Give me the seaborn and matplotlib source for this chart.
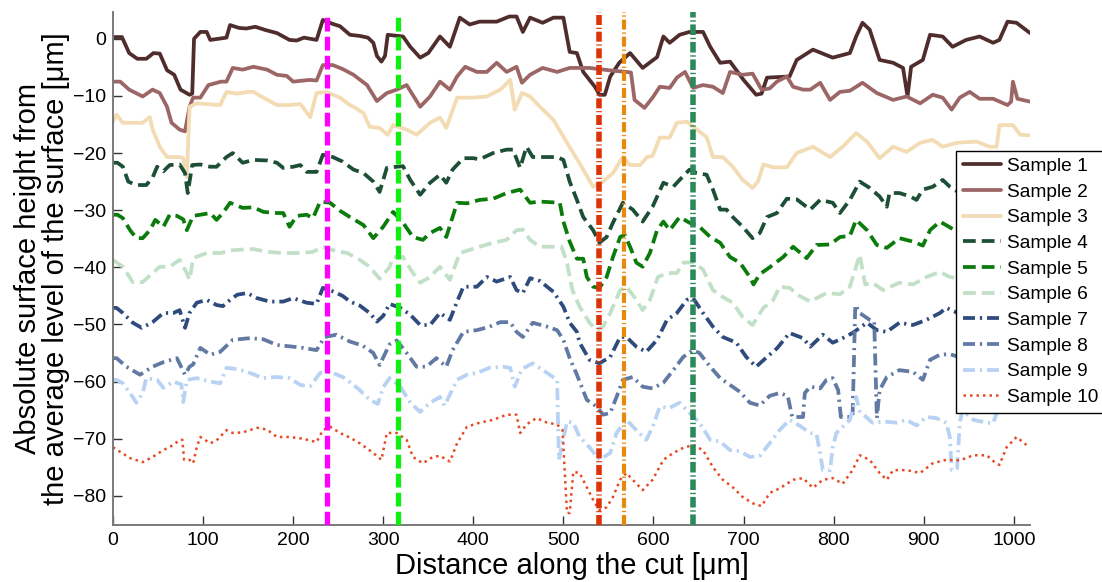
import numpy as np
import pandas as pd
import matplotlib
matplotlib.use('Agg')
import matplotlib.pyplot as plt
import seaborn as sns

# ---- profile data (x in um, height in um) ----
s1_x = [0, 10, 18, 27, 37, 45, 52, 60, 68, 75, 85, 88, 90, 97, 104, 108, 126, 130, 140, 148, 158, 170, 182, 196, 204, 212, 226, 233, 244, 252, 263, 274, 283, 289, 293, 298, 302, 305, 322, 330, 341, 350, 363, 374, 385, 396, 407, 426, 440, 448, 455, 463, 477, 489, 500, 507, 515, 522, 535, 540, 546, 552, 562, 574, 588, 604, 611, 618, 629, 640, 655, 663, 674, 685, 700, 714, 720, 726, 751, 759, 777, 799, 818, 825, 832, 840, 851, 866, 877, 882, 886, 899, 907, 921, 932, 947, 962, 977, 984, 993, 1003, 1018]
s1_y = [0.3, 0.3, -2.5, -3.5, -3.5, -2.5, -2.6, -5.5, -6.3, -8.9, -9.8, -9.6, 0, 1.2, 1.2, -0.2, 0.2, 2.4, 1.9, 1.8, 2.1, 1.5, 1.0, -0.2, -0.3, 0.2, -0.2, 3.3, 2.6, 2.2, 0.7, 0.5, 0.2, -0.7, -3, -4, -3, 0.7, 0.4, -1.4, -3.3, -2.5, 0.4, -1.4, 3.7, 2.5, 3.0, 3.0, 3.9, 3.9, 1.2, 3.7, 2.8, 3.7, 3.7, -2.3, -2.5, -5.8, -8.4, -9.8, -9.8, -6.6, -4.2, -2.5, -5.1, -3.2, 0.4, -0.7, 0.7, 1.2, 1.2, -1.4, -4.2, -4.0, -7.2, -9.8, -9.6, -6.8, -6.6, -3.7, -1.9, -3.3, -2.5, 0.4, 2.8, 1.6, -3.7, -4.2, -5.1, -10.1, -4.9, -3.7, 0.7, 0.4, -1.4, -0.2, 0.4, -0.7, -0.2, 3.0, 2.8, 1.0]

s2_x = [0, 8, 18, 33, 44, 52, 60, 65, 74, 80, 85, 89, 97, 106, 120, 126, 133, 144, 156, 171, 182, 193, 200, 218, 226, 233, 244, 255, 267, 282, 293, 304, 315, 326, 341, 352, 363, 374, 382, 391, 404, 415, 426, 437, 448, 454, 463, 477, 493, 507, 529, 550, 570, 575, 579, 590, 599, 607, 618, 626, 635, 644, 655, 666, 677, 685, 699, 710, 720, 729, 737, 748, 755, 766, 774, 785, 796, 807, 818, 832, 848, 866, 881, 896, 910, 921, 931, 940, 951, 962, 977, 993, 997, 999, 1004, 1018]
s2_y = [-7.5, -7.5, -8.9, -10.1, -8.9, -9.5, -11.9, -14.7, -15.9, -16.2, -11.9, -10.3, -10.3, -8.1, -7.5, -7.5, -5.1, -5.4, -4.9, -5.4, -6.3, -6.5, -7.5, -7.2, -7.3, -4.6, -4.6, -5.3, -6.3, -8.1, -10.9, -9.5, -8.9, -8.1, -11.9, -10.1, -7.5, -8.9, -6.6, -4.9, -5.8, -5.8, -4.2, -5.8, -4.9, -7.7, -6.3, -5.1, -5.8, -5.1, -5.1, -5.5, -5.8, -5.9, -10.7, -12.1, -10.3, -8.4, -8.6, -6.8, -5.8, -8.6, -8.1, -8.4, -9.5, -5.8, -6.3, -6.1, -8.9, -8.7, -7.5, -6.6, -8.4, -8.9, -8.9, -7.7, -10.7, -9.3, -9.1, -7.7, -9.5, -10.7, -10.1, -11.3, -9.8, -10.3, -12.4, -10.3, -9.3, -10.5, -10.5, -11.6, -11.0, -7.5, -10.5, -11.0]

s3_x = [0, 4, 11, 33, 41, 44, 52, 60, 74, 78, 82, 85, 93, 119, 126, 138, 150, 156, 167, 182, 196, 208, 219, 226, 237, 252, 263, 267, 278, 285, 296, 305, 311, 326, 337, 352, 363, 370, 382, 400, 415, 430, 441, 446, 454, 463, 474, 489, 504, 518, 533, 544, 555, 566, 574, 585, 593, 599, 607, 618, 626, 637, 648, 659, 666, 677, 688, 699, 710, 716, 722, 733, 748, 759, 777, 796, 810, 825, 837, 851, 866, 881, 896, 910, 921, 937, 959, 973, 981, 984, 999, 1007, 1018]
s3_y = [-14.5, -13.3, -14.7, -14.7, -13.7, -15.9, -18.9, -20.7, -20.7, -20.9, -24.2, -11.9, -11.3, -11.6, -9.3, -9.6, -9.3, -9.3, -10.3, -11.6, -11.6, -11.4, -13.7, -9.5, -9.3, -10.3, -11.6, -11.9, -13.0, -15.4, -15.6, -16.8, -15.1, -15.9, -16.8, -14.7, -13.8, -15.6, -10.3, -10.3, -10.1, -8.9, -7.2, -12.4, -9.5, -10.1, -11.9, -14.2, -18.2, -21.8, -25.9, -25.0, -23.5, -20.7, -22.1, -22.1, -20.7, -20.5, -17.3, -17.3, -14.7, -14.5, -15.9, -17.2, -20.7, -20.7, -22.4, -24.7, -26.1, -25.0, -22.0, -22.5, -22.5, -20.0, -18.9, -20.7, -18.9, -16.5, -18.0, -20.9, -18.9, -19.8, -18.2, -17.7, -18.9, -18.2, -18.0, -18.9, -18.9, -15.1, -15.1, -16.8, -16.9]

s4_x = [0, 5, 11, 17, 26, 37, 44, 49, 56, 63, 74, 80, 83, 88, 97, 108, 115, 126, 133, 144, 156, 171, 182, 189, 200, 208, 215, 226, 233, 244, 255, 267, 278, 289, 296, 304, 315, 322, 330, 341, 352, 363, 370, 377, 389, 400, 407, 422, 437, 444, 452, 459, 466, 477, 493, 500, 507, 515, 522, 533, 540, 548, 555, 566, 577, 588, 599, 611, 622, 629, 640, 648, 659, 666, 674, 681, 688, 699, 710, 718, 726, 737, 748, 759, 774, 785, 799, 807, 818, 829, 840, 851, 859, 862, 873, 885, 892, 899, 910, 921, 929, 940, 960, 980, 1000, 1018]
s4_y = [-21.7, -21.7, -22.4, -25.0, -25.6, -25.6, -24.3, -22.4, -23.2, -22.1, -22.0, -23.5, -27.0, -22.1, -22.0, -22.4, -22.4, -20.7, -20.0, -21.7, -21.2, -21.3, -21.7, -22.6, -22.4, -22.1, -23.3, -23.3, -20.3, -20.7, -21.5, -22.9, -23.5, -25.0, -26.8, -22.6, -22.4, -22.3, -24.7, -27.3, -25.2, -23.8, -25.2, -22.9, -20.9, -20.9, -21.1, -20.0, -19.4, -19.4, -22.6, -18.9, -20.7, -20.7, -20.7, -21.2, -25.0, -28.2, -31.2, -33.5, -35.7, -34.7, -32.2, -28.7, -29.9, -32.0, -29.4, -25.2, -25.9, -24.7, -22.9, -23.5, -23.8, -26.4, -29.9, -29.9, -31.2, -32.9, -34.9, -34.0, -31.2, -30.5, -28.0, -28.1, -29.9, -28.2, -28.7, -30.5, -28.2, -25.0, -26.1, -27.6, -29.4, -27.0, -27.0, -27.6, -28.2, -26.4, -25.9, -24.7, -25.9, -27.0, -26.0, -27.5, -25.5, -25.0]

s5_x = [0, 5, 11, 19, 26, 33, 41, 47, 56, 63, 71, 78, 82, 89, 97, 108, 115, 122, 130, 144, 156, 167, 182, 189, 196, 204, 215, 222, 230, 241, 252, 263, 278, 289, 300, 311, 322, 333, 344, 352, 363, 370, 382, 393, 407, 422, 437, 452, 463, 474, 496, 500, 507, 515, 522, 526, 533, 540, 548, 555, 563, 568, 574, 581, 588, 596, 604, 611, 618, 629, 640, 651, 663, 674, 685, 696, 707, 711, 718, 729, 744, 755, 770, 781, 796, 807, 818, 825, 837, 848, 859, 873, 888, 899, 907, 918, 929, 945, 965, 985, 1000, 1018]
s5_y = [-30.8, -30.8, -31.4, -33.5, -34.9, -34.9, -33.5, -31.7, -32.9, -30.8, -31.0, -31.6, -33.5, -31.0, -30.8, -30.5, -31.7, -30.5, -28.7, -29.6, -29.5, -30.3, -30.5, -30.5, -32.9, -31.0, -30.8, -31.4, -28.5, -28.7, -30.1, -31.2, -32.6, -34.9, -32.9, -30.3, -32.2, -34.7, -35.2, -34.0, -33.1, -34.7, -28.7, -28.8, -28.2, -28.0, -27.0, -26.4, -28.7, -28.5, -28.7, -32.0, -35.5, -38.5, -38.5, -41.7, -43.4, -43.6, -41.7, -38.2, -34.7, -34.3, -36.4, -39.2, -39.9, -37.5, -33.5, -32.0, -33.5, -31.2, -32.2, -32.9, -34.7, -35.7, -38.2, -39.2, -41.7, -43.0, -41.2, -40.0, -38.2, -36.4, -38.4, -36.1, -36.0, -34.7, -34.5, -31.7, -33.5, -36.1, -36.6, -34.9, -35.5, -36.2, -33.5, -32.0, -33.0, -34.5, -33.5, -35.0, -34.0, -33.5]

s6_x = [0, 11, 22, 33, 44, 52, 63, 74, 82, 85, 89, 104, 119, 133, 156, 171, 189, 208, 222, 233, 244, 260, 274, 285, 296, 307, 311, 322, 333, 341, 352, 363, 374, 385, 407, 422, 437, 448, 455, 463, 474, 498, 504, 510, 518, 529, 537, 544, 552, 563, 570, 581, 588, 596, 605, 615, 626, 633, 644, 655, 666, 677, 688, 699, 710, 722, 733, 740, 751, 762, 774, 792, 807, 818, 829, 835, 843, 855, 873, 888, 903, 918, 929, 945, 965, 985, 1000, 1018]
s6_y = [-38.7, -39.9, -42.6, -42.6, -41.0, -39.9, -39.9, -38.7, -41.0, -42.2, -38.4, -37.5, -37.5, -37.0, -36.8, -37.3, -37.5, -37.5, -37.3, -36.4, -37.0, -37.5, -38.7, -39.9, -42.0, -40.0, -38.2, -38.2, -41.0, -42.7, -41.7, -39.9, -42.2, -37.5, -36.4, -35.7, -35.2, -33.5, -33.4, -35.2, -36.4, -36.4, -39.2, -44.0, -46.9, -49.7, -51.0, -50.4, -48.0, -44.0, -43.4, -45.7, -47.5, -45.7, -41.7, -41.0, -41.0, -39.2, -39.1, -40.4, -44.0, -45.2, -46.2, -48.7, -50.1, -47.1, -45.7, -43.4, -43.6, -45.0, -46.0, -44.5, -44.7, -43.4, -37.8, -43.0, -42.7, -44.0, -42.7, -43.0, -41.7, -40.8, -41.7, -42.0, -41.0, -43.0, -42.0, -43.0]

s7_x = [0, 4, 11, 22, 32, 44, 56, 67, 74, 80, 85, 93, 104, 115, 122, 130, 138, 149, 160, 174, 189, 200, 215, 226, 233, 244, 255, 263, 274, 285, 293, 300, 307, 319, 330, 341, 352, 363, 374, 382, 389, 404, 415, 426, 441, 448, 455, 463, 474, 489, 500, 507, 515, 518, 529, 540, 552, 563, 570, 581, 592, 604, 615, 626, 637, 644, 655, 666, 677, 692, 703, 714, 726, 737, 751, 766, 774, 788, 799, 810, 821, 837, 848, 859, 873, 888, 903, 918, 925, 945, 965, 985, 1000, 1018]
s7_y = [-47.1, -47.1, -48.0, -49.7, -50.6, -49.6, -48.0, -48.0, -47.5, -50.6, -48.0, -46.2, -45.7, -46.6, -46.8, -45.7, -44.8, -44.5, -45.4, -46.0, -46.0, -45.4, -46.2, -46.4, -43.6, -44.2, -45.0, -46.0, -46.7, -48.0, -49.5, -48.5, -46.4, -47.1, -48.3, -50.1, -50.1, -48.0, -49.2, -46.0, -43.4, -43.4, -41.7, -42.5, -41.7, -44.0, -44.5, -41.9, -42.4, -44.3, -46.9, -49.7, -51.3, -53.2, -56.2, -56.8, -55.7, -52.2, -52.2, -53.9, -54.8, -52.7, -49.2, -48.0, -45.7, -45.4, -48.0, -50.4, -52.2, -53.2, -55.7, -57.4, -55.7, -54.2, -51.5, -52.4, -53.9, -51.8, -53.2, -52.4, -51.5, -49.7, -51.0, -51.3, -49.7, -50.1, -49.2, -48.0, -47.1, -48.5, -47.5, -49.0, -48.0, -48.5]

s8_x = [0, 4, 15, 30, 44, 56, 71, 80, 85, 89, 97, 108, 119, 133, 152, 167, 182, 200, 211, 226, 235, 248, 263, 277, 289, 296, 307, 315, 326, 337, 348, 359, 370, 377, 389, 404, 418, 430, 441, 448, 455, 466, 482, 493, 500, 507, 515, 526, 537, 544, 552, 559, 566, 577, 588, 599, 611, 622, 633, 644, 651, 663, 674, 685, 696, 707, 718, 729, 740, 749, 754, 766, 768, 774, 785, 792, 799, 805, 808, 821, 824, 829, 840, 845, 848, 851, 859, 873, 888, 899, 907, 918, 929, 945, 965, 985, 1000, 1018]
s8_y = [-55.9, -55.9, -57.4, -58.8, -57.4, -56.6, -55.9, -58.8, -57.4, -57.0, -54.1, -55.3, -54.8, -52.7, -52.4, -52.6, -53.6, -53.9, -54.1, -54.5, -52.2, -51.8, -53.0, -53.7, -55.0, -57.1, -53.5, -52.8, -55.0, -57.4, -57.4, -55.9, -57.4, -54.5, -51.3, -51.0, -50.4, -49.6, -49.6, -51.3, -52.2, -49.7, -50.4, -51.0, -52.7, -55.9, -58.8, -63.2, -64.4, -65.8, -65.5, -62.7, -59.7, -59.2, -60.9, -61.2, -60.2, -58.0, -55.7, -54.5, -55.0, -57.4, -59.4, -60.6, -61.8, -63.7, -64.2, -62.5, -62.0, -62.5, -66.2, -66.2, -62.0, -60.9, -61.2, -59.7, -59.4, -61.5, -66.2, -66.2, -46.6, -48.0, -49.2, -49.5, -66.4, -61.5, -59.2, -58.0, -58.3, -59.7, -56.2, -55.3, -55.2, -56.0, -55.0, -56.5, -55.5, -55.5]

s9_x = [0, 4, 11, 19, 26, 33, 37, 49, 56, 67, 76, 78, 82, 93, 108, 119, 126, 138, 152, 167, 182, 196, 208, 219, 230, 241, 255, 263, 274, 285, 294, 300, 307, 319, 330, 341, 352, 363, 368, 374, 382, 393, 404, 418, 433, 441, 446, 454, 466, 482, 493, 495, 500, 504, 511, 518, 529, 540, 552, 559, 570, 581, 592, 599, 607, 618, 629, 640, 651, 663, 674, 685, 696, 707, 718, 729, 740, 751, 762, 774, 781, 785, 788, 796, 799, 803, 818, 825, 829, 843, 855, 870, 881, 892, 903, 914, 925, 929, 931, 937, 940, 943, 955, 970, 977, 981, 990, 1005, 1018]
s9_y = [-59.7, -59.7, -60.3, -62.0, -63.7, -62.0, -59.4, -59.7, -61.1, -60.0, -60.5, -63.6, -59.7, -59.4, -60.0, -60.3, -57.6, -57.8, -58.5, -59.4, -59.2, -59.4, -60.6, -60.8, -58.5, -58.3, -59.2, -60.1, -61.5, -63.2, -63.9, -61.0, -59.4, -60.9, -63.7, -65.3, -63.7, -62.7, -64.2, -62.3, -59.7, -58.8, -58.5, -57.6, -57.4, -57.6, -60.9, -57.8, -56.8, -58.5, -59.7, -73.7, -70.0, -67.0, -67.2, -69.7, -71.5, -73.7, -72.5, -69.0, -66.7, -68.5, -70.2, -68.0, -64.4, -64.6, -63.7, -65.5, -67.2, -70.2, -70.5, -72.0, -72.2, -73.2, -73.0, -70.8, -68.5, -66.7, -67.7, -69.0, -69.2, -72.5, -75.5, -75.5, -71.5, -69.0, -66.7, -62.7, -65.2, -67.2, -67.0, -67.2, -66.7, -67.7, -66.2, -66.4, -67.2, -69.7, -75.5, -75.2, -67.2, -65.0, -66.7, -67.2, -67.3, -65.5, -65.0, -64.0, -64.0]

s10_x = [0, 8, 19, 33, 44, 56, 67, 74, 77, 79, 85, 89, 93, 97, 108, 115, 126, 133, 144, 160, 171, 182, 196, 211, 226, 233, 241, 252, 263, 274, 289, 298, 304, 315, 326, 333, 344, 355, 363, 374, 382, 393, 407, 422, 437, 448, 452, 459, 470, 482, 493, 499, 504, 507, 511, 518, 526, 533, 540, 548, 555, 563, 570, 577, 588, 599, 611, 622, 633, 644, 655, 666, 677, 688, 699, 710, 720, 729, 740, 755, 766, 777, 788, 799, 810, 821, 829, 840, 851, 859, 866, 881, 896, 910, 925, 940, 955, 970, 977, 984, 992, 1003, 1014]
s10_y = [-71.5, -72.3, -73.4, -74.1, -73.2, -72.0, -71.1, -70.2, -70.2, -73.7, -73.7, -74.3, -71.5, -69.7, -70.8, -70.3, -68.5, -69.0, -68.9, -68.1, -68.4, -69.7, -69.7, -70.0, -70.6, -68.5, -67.9, -69.0, -69.8, -70.8, -72.5, -73.7, -69.0, -69.0, -70.2, -73.2, -74.3, -73.2, -73.0, -74.0, -70.8, -67.9, -67.2, -66.7, -65.8, -65.8, -69.0, -67.5, -66.4, -67.2, -67.5, -68.5, -83.0, -83.0, -75.8, -76.0, -78.5, -80.7, -82.5, -82.0, -80.2, -77.2, -76.0, -77.2, -79.0, -77.2, -73.7, -72.5, -71.6, -71.1, -72.0, -75.0, -77.2, -78.5, -80.2, -81.3, -81.8, -79.5, -78.7, -77.2, -76.9, -78.6, -77.2, -76.9, -77.9, -75.5, -72.9, -73.7, -76.0, -77.2, -75.5, -75.5, -76.0, -74.3, -73.7, -73.8, -72.9, -72.9, -73.9, -74.6, -71.5, -69.7, -71.1]

labels = ['Sample %d' % i for i in range(1, 11)]
xs = [s1_x, s2_x, s3_x, s4_x, s5_x, s6_x, s7_x, s8_x, s9_x, s10_x]
ys = [s1_y, s2_y, s3_y, s4_y, s5_y, s6_y, s7_y, s8_y, s9_y, s10_y]

# positions of the marked vertical lines (um)
marks = [238, 316, 540, 567, 644]

# ---- styles ----
colors = ['#4f2d2d', '#9c6666', '#f3dbb3', '#1d4f36', '#0b7b0b',
          '#c1e0c7', '#2f4b7d', '#6179a3', '#b7d2f2', '#e64a23']
dashdot = (0, (3.2, 1.3, 0.6, 1.3))
styles = ['-', '-', '-', (0, (3.4, 1.6)), (0, (3.4, 1.6)), (0, (3.4, 1.6)),
          dashdot, dashdot, dashdot, (0, (1, 1.6))]
widths = [2.7] * 9 + [1.8]

mark_colors = ['#ff00ff', '#11ee11', '#de3208', '#e8880c', '#2a8a5a']
mark_styles = [(0, (2.6, 1.0)), (0, (2.6, 1.0)), (0, (1.8, 0.5, 0.2, 0.5)),
               (0, (2.4, 0.7, 0.3, 0.7)), (0, (1.9, 0.5, 0.25, 0.5))]
mark_widths = [3.8, 3.8, 4.0, 3.0, 4.0]

sns.set_style('white')
plt.rcParams['font.family'] = ['Liberation Sans', 'DejaVu Sans']
plt.rcParams['text.color'] = 'black'
plt.rcParams['axes.labelcolor'] = 'black'

fig = plt.figure(figsize=(11.02, 5.82), dpi=100)
ax = fig.add_axes([0.1025, 0.098, 0.8322, 0.8815])

for i in range(10):
    df = pd.DataFrame({'x': xs[i], 'y': ys[i]})
    sns.lineplot(data=df, x='x', y='y', ax=ax, color=colors[i], lw=widths[i],
                 linestyle=styles[i], label=labels[i], estimator=None,
                 errorbar=None, sort=False, legend=False)

for m, c, s, w in zip(marks, mark_colors, mark_styles, mark_widths):
    ax.axvline(m, color=c, linestyle=s, lw=w, zorder=5)

ax.set_xlim(0, 1018)
ax.set_ylim(-85.1, 4.7)
ax.set_xticks(np.arange(0, 1001, 100))
ax.set_yticks(np.arange(-80, 1, 10))
ax.tick_params(direction='in', length=6.5, width=1, color='#333333',
               labelcolor='black', labelsize=14, pad=5, bottom=True, left=True)
for side in ['top', 'right']:
    ax.spines[side].set_visible(False)
for side in ['left', 'bottom']:
    ax.spines[side].set_color('#7a7a7a')
    ax.spines[side].set_linewidth(1.4)

ax.set_xlabel('Distance along the cut [\u03bcm]', fontsize=21, labelpad=2)
ax.set_ylabel('Absolute surface height from\nthe average level of the surface [\u03bcm]',
              fontsize=21, labelpad=2, linespacing=1.0)

handles = ax.get_lines()[:10]
leg = ax.legend(handles, labels, loc='upper left', bbox_to_anchor=(0.8675, 0.7405),
                bbox_transform=fig.transFigure, fontsize=13.8, frameon=True,
                fancybox=False, framealpha=1, edgecolor='black', borderpad=0.35,
                labelspacing=0.43, handlelength=2.0, handletextpad=0.3,
                borderaxespad=0)
leg.get_frame().set_linewidth(1.0)
leg.set_zorder(10)
for t in leg.get_texts():
    t.set_color('black')

fig.savefig('out.png', dpi=100)
